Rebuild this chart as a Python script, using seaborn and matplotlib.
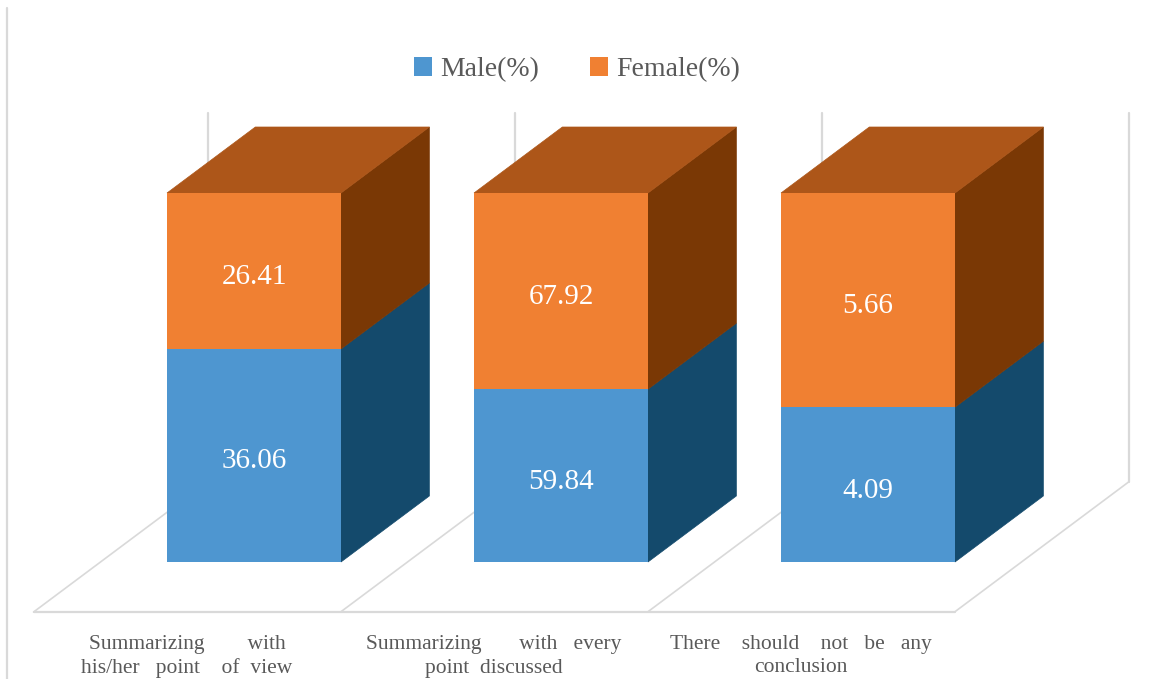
import numpy as np
import pandas as pd
import matplotlib
matplotlib.use("Agg")
import matplotlib.pyplot as plt
import seaborn as sns
from matplotlib.patches import Polygon, Patch
from matplotlib.lines import Line2D

# ---------------- data ----------------
categories = [
    "Summarizing with his/her point of view",
    "Summarizing with every point discussed",
    "There should not be any conclusion",
]
label_lines = [
    ["Summarizing        with", "his/her   point    of  view"],
    ["Summarizing       with   every", "point  discussed"],
    ["There    should    not   be   any", "conclusion"],
]
series_names = ["Male(%)", "Female(%)"]
male = [36.06, 59.84, 4.09]
female = [26.41, 67.92, 5.66]

# ---------------- style ----------------
MALE_FRONT, MALE_SIDE = "#4E96D0", "#144A6C"
FEM_FRONT, FEM_TOP, FEM_SIDE = "#F08032", "#AD5619", "#7A3805"
GRID = "#D9D9D9"
TXT = "#595959"

sns.set_theme(style="white")
plt.rcParams["font.family"] = ["Liberation Serif", "DejaVu Serif"]

W, H = 1153, 679
fig = plt.figure(figsize=(W / 100, H / 100), dpi=100)
ax = fig.add_axes([0, 0, 1, 1])

# layout (pixel geometry of the projection)
SP = 307.0      # px per category
X0 = 254.0      # px of first bar centre
Y0 = 562.0      # px of baseline (front plane of bars)
K = 3.69        # px per percent
DEPTH_PX = (174.0, 130.0)   # full floor depth vector in px
T_FRONT = 50.0 / 130.0      # bar front plane along depth
T_BACK = 116.0 / 130.0      # bar back plane along depth
BW = 174.0 / SP             # bar width in category units
LABEL_SHIFT = 6.0 / K       # value labels sit a little below the centre


def off(t):
    """Data-space offset of depth t relative to the bars' front plane."""
    return ((t - T_FRONT) * DEPTH_PX[0] / SP, (t - T_FRONT) * DEPTH_PX[1] / K)


male_arr = np.array(male)
fem_arr = np.array(female)
male_pct = male_arr / (male_arr + fem_arr) * 100.0

df = pd.DataFrame({"category": categories, "male_pct": male_pct, "total": 100.0})

# front faces through seaborn
sns.barplot(data=df, x="category", y="total", color=FEM_FRONT, width=BW,
            saturation=1, ax=ax, zorder=4, linewidth=0)
sns.barplot(data=df, x="category", y="male_pct", color=MALE_FRONT, width=BW,
            saturation=1, ax=ax, zorder=5, linewidth=0)

# floor and back wall
fx, fy = off(0.0)
bx, by = off(1.0)
bounds = np.arange(len(categories) + 1) - 0.5
ax.plot([bounds[0] + fx, bounds[-1] + fx], [fy, fy], color=GRID, lw=1.6, zorder=1)
for b in bounds:
    ax.plot([b + fx, b + bx], [fy, by], color=GRID, lw=1.2, zorder=1)
    ax.plot([b + bx, b + bx], [by, by + 100], color=GRID, lw=1.6, zorder=1)

# 3-D side and top faces
dx, dy = off(T_BACK)
dx -= off(T_FRONT)[0]
dy -= off(T_FRONT)[1]
for i, m in enumerate(male_pct):
    xl, xr = i - BW / 2, i + BW / 2
    faces = [
        ([(xr, 0), (xr + dx, dy), (xr + dx, dy + m), (xr, m)], MALE_SIDE),
        ([(xr, m), (xr + dx, dy + m), (xr + dx, dy + 100), (xr, 100)], FEM_SIDE),
        ([(xl, 100), (xr, 100), (xr + dx, 100 + dy), (xl + dx, 100 + dy)], FEM_TOP),
    ]
    for pts, c in faces:
        ax.add_patch(Polygon(pts, closed=True, facecolor=c, edgecolor=c,
                             lw=0.5, zorder=3))
    # value labels
    ax.text(i, m / 2 - LABEL_SHIFT, f"{male[i]:.2f}", ha="center", va="center",
            color="white", fontsize=21, zorder=6)
    ax.text(i, m + (100 - m) / 2 - LABEL_SHIFT, f"{female[i]:.2f}", ha="center",
            va="center", color="white", fontsize=21, zorder=6)

# category labels
for i, lines in enumerate(label_lines):
    cx = i + fx
    for j, ln in enumerate(lines):
        py = 645 + j * 23
        ax.text(cx, (Y0 - py) / K, ln, ha="center", va="center",
                color=TXT, fontsize=15.5)

ax.set_xlim((0 - X0) / SP, (W - X0) / SP)
ax.set_ylim((Y0 - H) / K, Y0 / K)
ax.axis("off")

# legend
handles = [Patch(facecolor=MALE_FRONT, edgecolor="none"),
           Patch(facecolor=FEM_FRONT, edgecolor="none")]
fig.legend(handles, series_names, loc="center", ncol=2, frameon=False,
           bbox_to_anchor=(577 / W, 1 - 70 / H), fontsize=20,
           handlelength=0.65, handleheight=0.65, handletextpad=0.3,
           columnspacing=1.8, labelcolor=TXT)

# chart border (left edge)
fig.add_artist(Line2D([7 / W, 7 / W], [0, 1 - 8 / H], transform=fig.transFigure,
                      color=GRID, lw=1.6))

fig.savefig("out.png", dpi=100)
